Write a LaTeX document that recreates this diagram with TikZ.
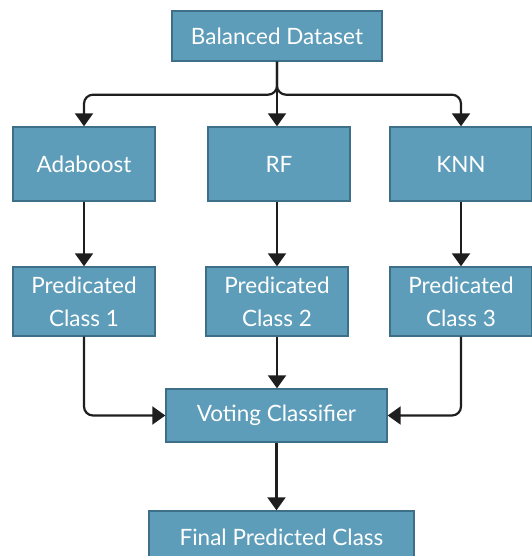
\documentclass[tikz,border=0pt]{standalone}
\usepackage{fontspec}
\setmainfont{Lato}
\usetikzlibrary{arrows.meta}
\definecolor{boxfill}{HTML}{5E9DBA}
\definecolor{boxline}{HTML}{3D6F88}
\definecolor{linkcol}{HTML}{1E1E1E}

\begin{document}
\begin{tikzpicture}[x=1pt,y=-1pt,
    box/.style={draw=boxline,line width=1.4pt,fill=boxfill,text=white,
      align=center,inner sep=0pt,font=\fontsize{22.5}{33}\selectfont},
    link/.style={draw=linkcol,line width=2.2pt,
      -{Triangle[width=18pt,length=13pt]}}]
      \useasboundingbox (0,0) rectangle (531,556);
      % boxes
      \node[box,minimum width=210pt,minimum height=50pt] (data) at (277,36) {Balanced Dataset};
      \foreach \n/\x/\t in {ada/84/Adaboost,rf/279/RF,knn/461/KNN}{%
        \node[box,minimum width=142pt,minimum height=74pt] (\n) at (\x,164) {\t};
      }
      \foreach \n/\x/\k in {pa/84/1,pb/277/2,pc/461/3}{%
        \node[box,minimum width=142pt,minimum height=69pt] (\n) at (\x,301.5) {Predicated\\Class \k};
      }
      \node[box,minimum width=221pt,minimum height=53pt] (vote) at (276.5,415.5) {Voting Classifier};
      \node[box,minimum width=265pt,minimum height=52pt] (final) at (281.5,537) {Final Predicted Class};
      % connectors
      \draw[link,rounded corners=9pt] (data.south) -- ++(0,33) -| (ada.north);
      \draw[link,rounded corners=9pt] (data.south) -- ++(0,33) -| (knn.north);
      \draw[link] (data.south) -- (data.south |- rf.north);
      \foreach \a/\b in {ada/pa,knn/pc}{%
        \draw[link] (\a) -- (\b);
      }
      \draw[link] (rf.south -| pb.north) -- (pb.north);
      \draw[link,rounded corners=9pt] (pa.south) |- (vote.west);
      \draw[link,rounded corners=9pt] (pc.south) |- (vote.east);
      \draw[link] (pb.south) -- (pb.south |- vote.north);
      \draw[link] (vote.south) -- (vote.south |- final.north);
    \end{tikzpicture}
\end{document}
